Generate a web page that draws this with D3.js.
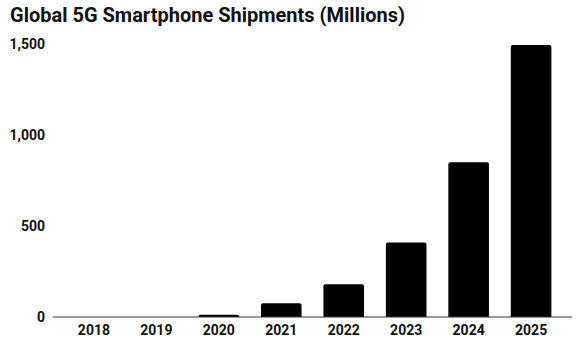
<!DOCTYPE html>
<html>
<head>
<meta charset="utf-8">
<script src="https://cdn.jsdelivr.net/npm/d3@7"></script>
<style>
  body { margin: 0; background: #fff; }
  svg text { font-family: Roboto, "Noto Sans", sans-serif; font-weight: 700; fill: #111; }
</style>
</head>
<body>
<div class="visHolder"></div>
<script>
var years = ['2018', '2019', '2020', '2021', '2022', '2023', '2024', '2025'];
var shipments = [0, 0, 12, 75, 180, 410, 850, 1495];
var yTicks = [0, 500, 1000, 1500];

var width = 579,
    height = 347,
    plotLeft = 53,
    plotRight = 572,
    plotTop = 44,
    plotBottom = 317;

var svg = d3
    .select('.visHolder')
    .append('svg')
    .attr('width', width)
    .attr('height', height);

svg
    .append('text')
    .attr('x', 10)
    .attr('y', 22)
    .style('font-size', '20px')
    .text('Global 5G Smartphone Shipments (Millions)');

var xScale = d3
    .scaleBand()
    .domain(years)
    .range([plotLeft, plotRight])
    .paddingInner(0.35)
    .paddingOuter(0.33);

var yScale = d3.scaleLinear().domain([0, 1500]).range([plotBottom, plotTop]);

// y labels only, no axis line or ticks
var yAxis = d3
    .axisLeft(yScale)
    .tickValues(yTicks)
    .tickFormat(d3.format(','))
    .tickSize(0)
    .tickPadding(8);

svg
    .append('g')
    .attr('id', 'y-axis')
    .attr('transform', 'translate(' + plotLeft + ',0)')
    .call(yAxis)
    .call(function (g) { g.select('.domain').remove(); })
    .selectAll('text')
    .style('font-size', '14px');

// bars with rounded top corners
var r = 2;
svg
    .append('g')
    .selectAll('path')
    .data(shipments)
    .enter()
    .append('path')
    .attr('fill', '#000')
    .attr('d', function (d, i) {
        var x0 = xScale(years[i]),
            w = xScale.bandwidth(),
            y0 = yScale(d),
            h = plotBottom - y0;
        if (h <= 0) return null;
        var rr = Math.min(r, h);
        return 'M' + x0 + ',' + plotBottom +
            'V' + (y0 + rr) +
            'Q' + x0 + ',' + y0 + ' ' + (x0 + rr) + ',' + y0 +
            'H' + (x0 + w - rr) +
            'Q' + (x0 + w) + ',' + y0 + ' ' + (x0 + w) + ',' + (y0 + rr) +
            'V' + plotBottom + 'Z';
    });

var xAxis = d3.axisBottom(xScale).tickSize(0).tickPadding(8);

svg
    .append('g')
    .attr('id', 'x-axis')
    .attr('transform', 'translate(0,' + plotBottom + ')')
    .call(xAxis)
    .call(function (g) {
        g.select('.domain')
            .attr('stroke', '#333')
            .attr('stroke-width', 1.2)
            .attr('d', 'M' + plotLeft + ',0H' + plotRight);
    })
    .selectAll('text')
    .style('font-size', '14px');
</script>
</body>
</html>
